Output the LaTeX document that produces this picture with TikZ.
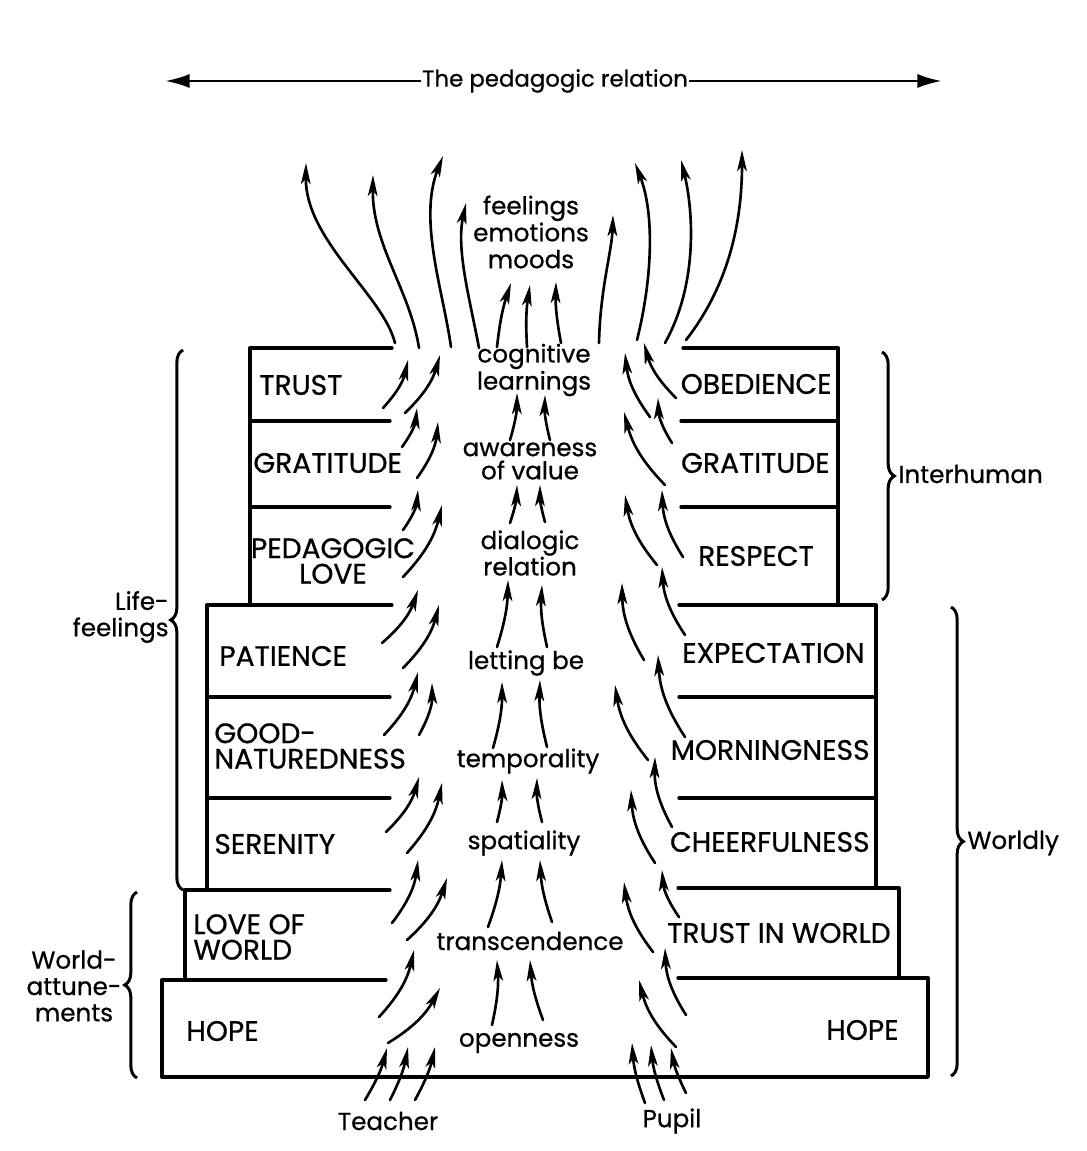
\documentclass[tikz,border=0pt]{standalone}
\usepackage{fontspec}
\setmainfont{Poppins}[FakeBold=0.7]
\usepackage{tikz}
\usetikzlibrary{arrows.meta,decorations.pathreplacing}

\begin{document}
\begin{tikzpicture}[x=0.02cm, y=-0.02cm, line width=1.6pt,
    tier/.style={line width=1.9pt, line cap=round, line join=round},
    flow/.style={line width=1.5pt, line cap=round, -{Stealth[length=12pt,width=5.5pt,inset=3pt]}},
    wide/.style={line width=1.6pt, -{Latex[length=14pt,width=8pt]}},
    boxlabel/.style={font=\fontsize{16}{14.5}\selectfont, inner sep=0pt},
    flowlabel/.style={font=\fontsize{14}{15}\selectfont, inner sep=0pt},
    sidebrace/.style={decorate, decoration={brace, amplitude=7pt}, line width=1.7pt}]

  \useasboundingbox (0,0) rectangle (1086,1151);

  % The pedagogic relation arrow
  \node[flowlabel, font=\fontsize{13}{14}\selectfont] (relation) at (555,81) {The pedagogic relation};
  \coordinate (relL) at (165,81);
  \coordinate (relR) at (942,81);
  \draw[wide] (relation.west) -- (relL);
  \draw[wide] (relation.east) -- (relR);

  % Left steps
  \draw[tier] (392,348) -- (250,348) -- (250,605);
  \foreach \y in {421,507} \draw[tier] (250,\y) -- (390,\y);
  \draw[tier] (392,605) -- (207,605) -- (207,890);
  \foreach \y in {697,798} \draw[tier] (207,\y) -- (390,\y);
  \draw[tier] (390,890) -- (185,890) -- (185,980);
  \draw[tier] (386,980) -- (162,980) -- (162,1077) -- (928,1077) -- (928,978) -- (678,978);

  % Right steps
  \draw[tier] (683,348) -- (838,348) -- (838,605);
  \foreach \y in {421,507} \draw[tier] (681,\y) -- (838,\y);
  \draw[tier] (679,605) -- (876,605) -- (876,888);
  \foreach \y in {697,798} \draw[tier] (679,\y) -- (876,\y);
  \draw[tier] (678,888) -- (899,888) -- (899,978);

  % Labels in the steps
  \node[boxlabel, anchor=west] (trustL) at (258,385) {TRUST};
  \node[boxlabel, anchor=west] (gratL) at (252,463) {GRATITUDE};
  \node[boxlabel, align=center] (pedlove) at (333,561) {PEDAGOGIC\\LOVE};
  \node[boxlabel, anchor=west] (patience) at (218,656) {PATIENCE};
  \node[boxlabel, anchor=west, align=left] (goodnat) at (213,746) {GOOD-\\NATUREDNESS};
  \node[boxlabel, anchor=west] (serenity) at (213,844) {SERENITY};
  \node[boxlabel, anchor=west, align=left] (loveworld) at (192,937) {LOVE OF\\WORLD};
  \node[boxlabel, anchor=west] (hopeL) at (185,1031) {HOPE};

  \node[boxlabel, anchor=east] (obedience) at (833,384) {OBEDIENCE};
  \node[boxlabel, anchor=east] (gratR) at (831,463) {GRATITUDE};
  \node[boxlabel] (respect) at (756,556) {RESPECT};
  \node[boxlabel, anchor=east] (expect) at (866,653) {EXPECTATION};
  \node[boxlabel, anchor=east] (morning) at (871,750) {MORNINGNESS};
  \node[boxlabel, anchor=east] (cheer) at (871,842) {CHEERFULNESS};
  \node[boxlabel, anchor=east] (trustworld) at (892,933) {TRUST IN WORLD};
  \node[boxlabel, anchor=east] (hopeR) at (900,1030) {HOPE};

  % Middle column
  \node[flowlabel, align=center, font=\fontsize{14}{15.3}\selectfont] (feelings) at (531,232) {feelings\\emotions\\moods};
  \node[flowlabel, align=center, font=\fontsize{14}{12.5}\selectfont] (cognitive) at (534,370) {cognitive\\learnings};
  \node[flowlabel, align=center, font=\fontsize{14}{13.2}\selectfont] (awareness) at (530,461) {awareness\\of value};
  \node[flowlabel, align=center] (dialogic) at (530,553) {dialogic\\relation};
  \node[flowlabel] (letting) at (526,663) {letting be};
  \node[flowlabel] (temporal) at (528,761) {temporality};
  \node[flowlabel] (spatial) at (524,843) {spatiality};
  \node[flowlabel] (transc) at (530,941) {transcendence};
  \node[flowlabel] (open) at (519,1043) {openness};
  \node[flowlabel] (teacher) at (388,1121) {Teacher};
  \node[flowlabel] (pupil) at (672,1121) {Pupil};

  % Braces
  \draw[sidebrace] (183,890) -- (183,350);
  \node[flowlabel, anchor=east, align=right] (life) at (170,617) {Life-\\feelings};
  \draw[sidebrace] (137,1078) -- (137,892);
  \node[flowlabel, align=center] (attune) at (74,986) {World-\\attune-\\ments};
  \draw[sidebrace] (882,352) -- (882,600);
  \node[flowlabel, anchor=west] (inter) at (897,474) {Interhuman};
  \draw[sidebrace] (951,607) -- (951,1076);
  \node[flowlabel, anchor=west] (worldly) at (966,843) {Worldly};

  % Long flows out at the top
  \draw[flow] (395,343) .. controls (383,295) and (305,240) .. (306,163);
  \draw[flow] (419,348) .. controls (410,290) and (372,245) .. (373,175);
  \draw[flow] (451,347) .. controls (443,290) and (418,220) .. (443,156);
  \draw[flow] (479,348) .. controls (470,300) and (456,250) .. (466,203);
  \draw[flow] (599,343) .. controls (600,290) and (612,250) .. (613,215);
  \draw[flow] (637,340) .. controls (652,280) and (655,215) .. (635,163);
  \draw[flow] (665,343) .. controls (700,280) and (692,205) .. (681,160);
  \draw[flow] (686,340) .. controls (725,290) and (742,230) .. (742,150);
  \foreach \xa/\ya/\xb/\yb in {497/347/511/283, 527/347/530/285, 561/343/556/282}
    \draw[flow] (\xa,\ya) to[bend left=6] (\xb,\yb);

  % Short flows, left side
  \foreach \xa/\ya/\xb/\yb in {383/408/408/360, 405/413/440/355, 402/447/417/408,
      417/478/438/422, 403/530/418/490, 403/577/442/505, 382/643/418/590,
      403/668/439/605, 384/735/418/672, 419/735/432/683, 386/832/419/777,
      407/853/442/783, 392/923/418/860, 407/940/447/878, 379/1017/414/950,
      388/1043/440/988}
    \draw[flow] (\xa,\ya) to[bend right=15] (\xb,\yb);

  % Short flows, right side
  \foreach \xa/\ya/\xb/\yb in {676/398/644/343, 650/417/625/353, 672/443/658/398,
      665/485/624/412, 683/557/662/490, 657/565/625/495, 685/635/662/567,
      644/660/622/583, 685/737/658/655, 648/760/615/685, 672/827/655/757,
      655/863/631/790, 679/917/662/870, 653/952/624/882, 686/1015/665/948,
      676/1047/639/980}
    \draw[flow] (\xa,\ya) to[bend left=15] (\xb,\yb);

  % Middle pairs
  \foreach \xa/\ya/\xb/\yb in {510/440/517/393, 510/523/517/485, 497/647/508/580,
      493/748/502/682, 497/822/502/780, 488/927/502/860, 492/1025/497/960}
    \draw[flow] (\xa,\ya) to[bend right=8] (\xb,\yb);
  \foreach \xa/\ya/\xb/\yb in {550/440/545/395, 545/522/540/485, 547/647/542/585,
      547/747/540/680, 542/822/537/778, 552/922/540/860, 543/1020/530/960}
    \draw[flow] (\xa,\ya) to[bend left=8] (\xb,\yb);

  % Teacher and pupil
  \foreach \xa/\ya/\xb/\yb in {365/1100/387/1048, 390/1100/408/1047, 415/1100/435/1047}
    \draw[flow] (\xa,\ya) to[bend right=8] (\xb,\yb);
  \foreach \xa/\ya/\xb/\yb in {645/1103/632/1043, 664/1100/651/1045, 686/1093/671/1048}
    \draw[flow] (\xa,\ya) to[bend left=8] (\xb,\yb);

\end{tikzpicture}
\end{document}
